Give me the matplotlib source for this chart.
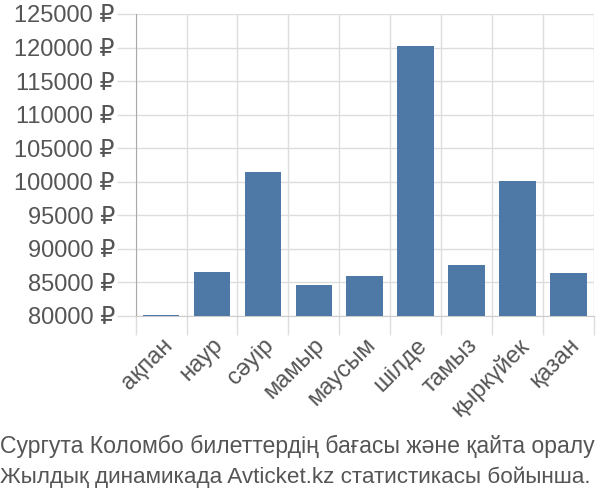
import matplotlib

matplotlib.use("Agg")
import matplotlib.pyplot as plt
from matplotlib.ticker import FixedLocator, FuncFormatter

plt.rcParams["font.family"] = ["Liberation Sans", "DejaVu Sans"]

MONTHS = ["ақпан", "наур", "сәуір", "мамыр", "маусым", "шілде", "тамыз", "қыркүйек", "қазан"]
PRICES = [80200, 86600, 101400, 84600, 86000, 120200, 87550, 100100, 86400]
Y_TICKS = [80000, 85000, 90000, 95000, 100000, 105000, 110000, 115000, 120000, 125000]
CAPTION = [
    "Сургута Коломбо билеттердің бағасы және қайта оралу",
    "Жылдық динамикада Avticket.kz статистикасы бойынша.",
]

BAR_COLOR = "#4e78a6"
GRID_COLOR = "#dddddd"
TEXT_COLOR = "#555555"

fig = plt.figure(figsize=(6, 5), dpi=100)
ax = fig.add_axes([0.226, 0.368, 0.764, 0.604])

positions = list(range(len(MONTHS)))
ax.bar(positions, PRICES, width=0.72, color=BAR_COLOR, zorder=3)

ax.set_xlim(-0.5, len(MONTHS) - 0.5)
ax.set_ylim(Y_TICKS[0], Y_TICKS[-1])

ax.set_yticks(Y_TICKS)
ax.yaxis.set_major_formatter(FuncFormatter(lambda v, _: f"{v:.0f} ₽"))
ax.set_xticks(positions)
ax.set_xticklabels(MONTHS, rotation=45, ha="right", va="top", rotation_mode="anchor")
ax.xaxis.set_minor_locator(FixedLocator([p - 0.5 for p in positions] + [len(MONTHS) - 0.5]))

ax.grid(True, which="minor", axis="x", color=GRID_COLOR, linewidth=1, zorder=0)
ax.grid(True, which="major", axis="y", color=GRID_COLOR, linewidth=1, zorder=0)

ax.tick_params(axis="x", which="major", length=0, pad=13, labelsize=17, labelcolor=TEXT_COLOR)
ax.tick_params(axis="x", which="minor", length=14, width=1, color=GRID_COLOR)
ax.tick_params(axis="y", length=14, width=1, color=GRID_COLOR, pad=1, labelsize=17,
               labelcolor=TEXT_COLOR)

for side in ("top", "right"):
    ax.spines[side].set_visible(False)
ax.spines["left"].set_color("#aaaaaa")
ax.spines["bottom"].set_color("#cccccc")

fig.text(0.0, 0.108, CAPTION[0], ha="left", va="center", fontsize=16.6, color=TEXT_COLOR)
fig.text(0.0, 0.045, CAPTION[1], ha="left", va="center", fontsize=16.2, color=TEXT_COLOR)

fig.savefig("out.png", dpi=100)
